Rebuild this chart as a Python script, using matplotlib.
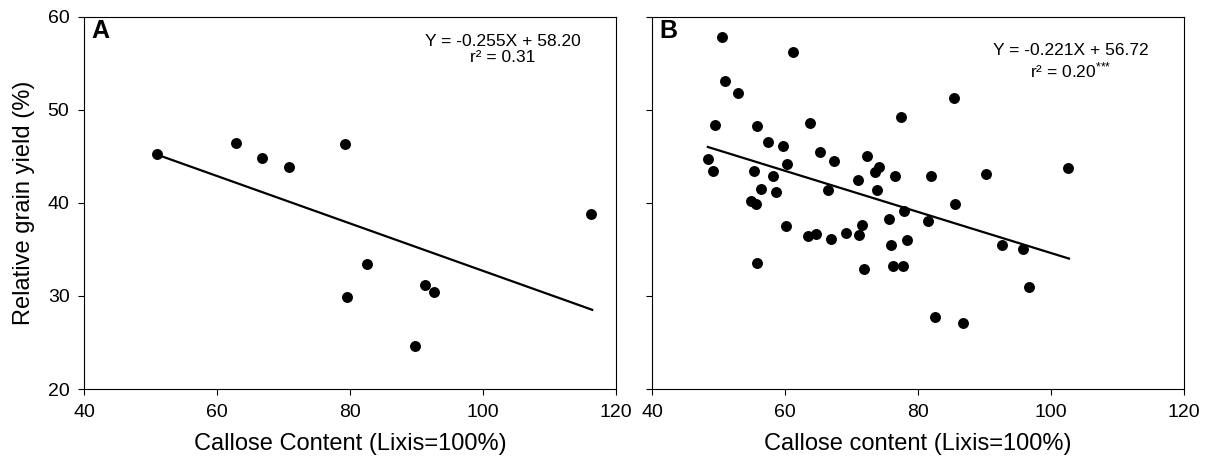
import matplotlib
matplotlib.use("Agg")
import matplotlib.pyplot as plt

plt.rcParams['font.family'] = ['Liberation Sans', 'DejaVu Sans']
plt.rcParams['mathtext.fontset'] = 'custom'
plt.rcParams['mathtext.rm'] = 'Liberation Sans'
plt.rcParams['mathtext.it'] = 'Liberation Sans'

# panel A: callose content vs relative grain yield
xa = [51.0, 62.8, 66.7, 70.8, 79.2, 79.5, 82.6, 91.2, 92.6, 89.8, 116.2]
ya = [45.3, 46.4, 44.8, 43.9, 46.3, 29.9, 33.4, 31.2, 30.4, 24.6, 38.8]
slope_a, icpt_a = -0.255, 58.20

# panel B
xb = [50.6, 61.2, 51.0, 52.9, 85.4, 77.5, 49.5, 55.8, 63.8, 57.5,
      59.7, 65.2, 48.4, 60.3, 67.3, 72.3, 74.1, 73.5, 49.2, 55.3,
      58.2, 71.0, 76.6, 82.0, 90.3, 102.5, 56.4, 58.6, 66.4, 73.9,
      54.9, 55.7, 85.6, 77.9, 60.2, 71.6, 75.7, 81.5, 63.5, 64.6,
      66.9, 69.1, 71.1, 78.4, 75.9, 92.7, 95.8, 55.8, 71.9, 76.2,
      77.7, 96.7, 82.6, 86.7]
yb = [57.8, 56.2, 53.1, 51.8, 51.3, 49.3, 48.4, 48.3, 48.6, 46.6,
      46.1, 45.5, 44.7, 44.2, 44.5, 45.0, 43.9, 43.3, 43.4, 43.4,
      42.9, 42.5, 42.9, 42.9, 43.1, 43.8, 41.5, 41.2, 41.4, 41.4,
      40.2, 39.9, 39.9, 39.1, 37.5, 37.6, 38.3, 38.1, 36.4, 36.7,
      36.1, 36.8, 36.6, 36.0, 35.5, 35.5, 35.0, 33.6, 32.9, 33.2,
      33.2, 31.0, 27.7, 27.1]
slope_b, icpt_b = -0.221, 56.72

xticks = [40, 60, 80, 100, 120]
yticks = [20, 30, 40, 50, 60]

fig = plt.figure(figsize=(12.13, 4.68), dpi=100)
axA = fig.add_axes([0.0693, 0.1688, 0.4386, 0.7949])
axB = fig.add_axes([0.5375, 0.1688, 0.4386, 0.7949])

panels = [
    (axA, xa, ya, slope_a, icpt_a, 'A', 'Callose Content (Lixis=100%)',
     'Y = -0.255X + 58.20', 'r² = 0.31', 57.4, 55.6),
    (axB, xb, yb, slope_b, icpt_b, 'B', 'Callose content (Lixis=100%)',
     'Y = -0.221X + 56.72', 'r² = 0.20$^{{*}{*}{*}}$', 56.35, 54.3),
]

for ax, x, y, m, c, tag, xlab, eq, r2, ey, ry in panels:
    ax.scatter(x, y, s=62, color='black', zorder=3, linewidths=0)
    x0, x1 = min(x), max(x) + 0.2
    ax.plot([x0, x1], [m * x0 + c, m * x1 + c], color='black', lw=1.6)
    ax.set_xlim(40, 120)
    ax.set_ylim(20, 60)
    ax.set_xticks(xticks)
    ax.set_yticks(yticks)
    ax.tick_params(direction='out', length=4.5, width=0.8, labelsize=14, pad=6)
    for sp in ax.spines.values():
        sp.set_linewidth(0.8)
    ax.set_xlabel(xlab, fontsize=17, labelpad=9)
    ax.text(0.014, 0.995, tag, transform=ax.transAxes, ha='left', va='top',
            fontsize=18, fontweight='bold')
    ax.text(103.0, ey, eq, ha='center', va='center', fontsize=12.5)
    ax.text(103.0, ry, r2, ha='center', va='center', fontsize=12.5)

axA.set_ylabel('Relative grain yield (%)', fontsize=17, labelpad=9)
axB.set_yticklabels([])

fig.savefig('out.png', dpi=100)
